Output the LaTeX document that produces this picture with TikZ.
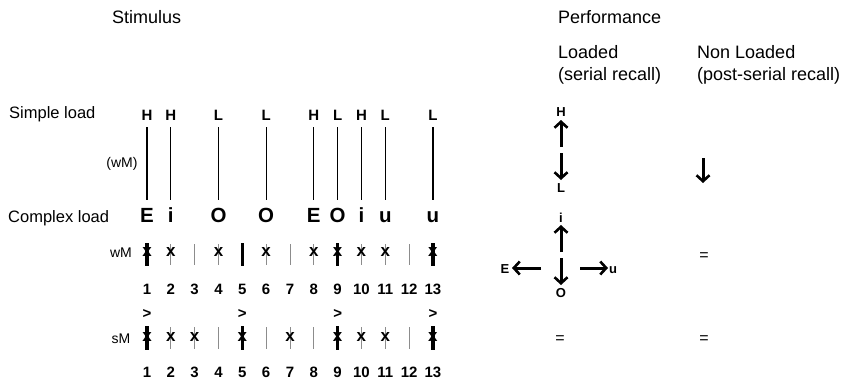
\documentclass[tikz,border=0pt]{standalone}
\usepackage{fontspec}
\setmainfont{Liberation Sans}
\usetikzlibrary{arrows.meta}
\begin{document}
\begin{tikzpicture}[x=1pt,y=-1pt,
  hdr/.style={font=\fontsize{18}{21}\selectfont, inner sep=0, anchor=base west},
  lbl/.style={font=\fontsize{16.5}{19}\selectfont, inner sep=0, anchor=base west},
  sml/.style={font=\fontsize{14}{16}\selectfont, inner sep=0, anchor=base},
  num/.style={font=\bfseries\fontsize{15}{16}\selectfont, inner sep=0, anchor=base},
  hl/.style={font=\bfseries\fontsize{15}{16}\selectfont, inner sep=0, anchor=base},
  vow/.style={font=\bfseries\fontsize{20.5}{22}\selectfont, inner sep=0, anchor=base},
  pl/.style={font=\bfseries\fontsize{13}{14}\selectfont, inner sep=0, anchor=base},
  eqs/.style={font=\fontsize{16}{18}\selectfont, inner sep=0},
  loadline/.style={draw=black, line width=1.2pt},
  thinmark/.style={draw=black!45, line width=0.9pt},
  thickmark/.style={draw=black, line width=3.2pt},
  xmark/.style={font=\bfseries\fontsize{17}{18}\selectfont, inner sep=0},
  perfarrow/.style={line width=3pt, -{Straight Barb[length=6pt,width=13pt,line width=2.6pt]}},
]
\useasboundingbox (0,0) rectangle (842,381);
% headers
\node[hdr] (stim) at (112,23) {Stimulus};
\node[hdr] (perf) at (558,23) {Performance};
\node[hdr] (loaded) at (558,58) {Loaded};
\node[hdr] (serial) at (558,80) {(serial recall)};
\node[hdr] (nonloaded) at (697,58) {Non Loaded};
\node[hdr] (post) at (697,80) {(post-serial recall)};
% left labels
\node[lbl] (simple) at (9,118) {Simple load};
\node[lbl] (complex) at (8,222) {Complex load};
\node[sml] (wMp) at (122,167) {(wM)};
\node[sml] (wMl) at (121,257) {wM};
\node[sml] (sMl) at (121,343) {sM};
% simple / complex load columns
\foreach \c/\h/\v in {1/H/E,2/H/i,4/L/O,6/L/O,8/H/E,9/L/O,10/H/i,11/L/u,13/L/u}{
  \pgfmathsetmacro\cx{147+23.83*(\c-1)}
  \node[hl] (h\c) at (\cx,120) {\h};
  \node[vow] (v\c) at (\cx,222) {\v};
  \coordinate (lt\c) at (\cx,127);
  \coordinate (lb\c) at (\cx,200);
  \draw[loadline] (lt\c) -- (lb\c);
}
% wM row
\foreach \c in {2,3,4,6,7,8,10,11,12}{
  \pgfmathsetmacro\cx{147+23.83*(\c-1)}
  \coordinate (wt\c) at (\cx,244);
  \coordinate (wb\c) at (\cx,265);
  \draw[thinmark] (wt\c) -- (wb\c);
}
\foreach \c in {1,5,9,13}{
  \pgfmathsetmacro\cx{147+23.83*(\c-1)}
  \coordinate (wt\c) at (\cx,243);
  \coordinate (wb\c) at (\cx,266);
  \draw[thickmark] (wt\c) -- (wb\c);
}
\foreach \c in {1,2,4,6,8,9,10,11,13}{
  \pgfmathsetmacro\cx{147+23.83*(\c-1)}
  \node[xmark] (wx\c) at (\cx,252) {x};
}
\foreach \c in {1,...,13}{
  \pgfmathsetmacro\cx{147+23.83*(\c-1)}
  \node[num] (wn\c) at (\cx,294) {\c};
  \node[num] (sn\c) at (\cx,377) {\c};
}
% sM row
\foreach \c in {2,3,4,6,7,8,10,11,12}{
  \pgfmathsetmacro\cx{147+23.83*(\c-1)}
  \coordinate (st\c) at (\cx,327);
  \coordinate (sb\c) at (\cx,349);
  \draw[thinmark] (st\c) -- (sb\c);
}
\foreach \c in {1,5,9,13}{
  \pgfmathsetmacro\cx{147+23.83*(\c-1)}
  \coordinate (st\c) at (\cx,326);
  \coordinate (sb\c) at (\cx,350);
  \draw[thickmark] (st\c) -- (sb\c);
  \node[num] (gt\c) at (\cx,318) {>};
}
\foreach \c in {1,2,3,5,7,9,10,11,13}{
  \pgfmathsetmacro\cx{147+23.83*(\c-1)}
  \node[xmark] (sx\c) at (\cx,337) {x};
}
% performance: simple load
\node[pl] (pH) at (561,116) {H};
\node[pl] (pL) at (561,192) {L};
\coordinate (upA) at (561,147);
\coordinate (upB) at (561,120);
\draw[perfarrow] (upA) -- (upB);
\coordinate (dnA) at (561,153);
\coordinate (dnB) at (561,180);
\draw[perfarrow] (dnA) -- (dnB);
\coordinate (ndA) at (703,158);
\coordinate (ndB) at (703,183);
\draw[perfarrow] (ndA) -- (ndB);
% performance: complex load
\node[pl] (pi) at (561,222) {i};
\node[pl] (pO) at (561,297) {O};
\node[pl] (pE) at (505,273) {E};
\node[pl] (pu) at (613,273) {u};
\coordinate (ciA) at (561,252);
\coordinate (ciB) at (561,225);
\draw[perfarrow] (ciA) -- (ciB);
\coordinate (coA) at (561,258);
\coordinate (coB) at (561,285);
\draw[perfarrow] (coA) -- (coB);
\coordinate (ceA) at (541,268);
\coordinate (ceB) at (512,268);
\draw[perfarrow] (ceA) -- (ceB);
\coordinate (cuA) at (580,268);
\coordinate (cuB) at (608,268);
\draw[perfarrow] (cuA) -- (cuB);
\node[eqs] (eq1) at (704,257) {=};
\node[eqs] (eq2) at (560,340) {=};
\node[eqs] (eq3) at (704,340) {=};
\end{tikzpicture}
\end{document}
